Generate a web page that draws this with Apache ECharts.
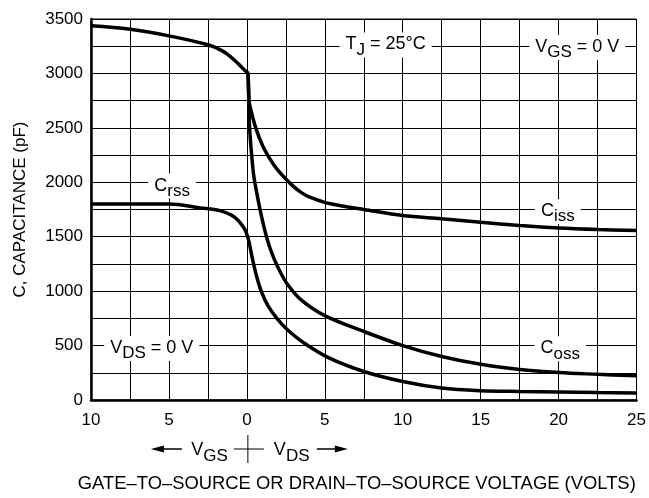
<!DOCTYPE html>
<html><head><meta charset="utf-8">
<script src="https://cdn.jsdelivr.net/npm/echarts@6/dist/echarts.min.js"></script>
<style>html,body{margin:0;padding:0;background:#fff}#c{width:649px;height:498px}</style>
</head><body><div id="c"></div>
<script>
// ---- data ----
const cissX = [-10,-7.5,-5,-2.5,-1.6,-1.1,-0.7,-0.35,-0.1,0.07,0.13,0.28,0.6,1.02,1.5,1.88,2.5,3,3.5,4,5,6,7.5,10,12.5,15,17.5,20,22.5,25];
const cissY = [3437,3405,3345,3263,3210,3160,3110,3060,3025,3000,2760,2650,2486,2334,2210,2130,2030,1960,1905,1865,1815,1785,1750,1694,1664,1632,1603,1580,1566,1557];
const cossX = [0.07,0.13,0.17,0.3,0.45,0.6,0.81,1.13,1.45,1.77,2.2,2.62,3.48,5,7.5,10,12.5,15,17.5,20,22.5,25];
const cossY = [3000,2760,2516,2260,2050,1930,1775,1570,1410,1290,1160,1060,920,775,630,500,400,328,280,252,236,222];
const crssX = [-10,-7.5,-5,-3,-1.74,-0.79,-0.15,0.07,0.2,0.35,0.6,0.92,1.34,1.98,2.62,3.69,5.3,7.5,10,12.5,15,17.5,20,22.5,25];
const crssY = [1800,1800,1800,1765,1740,1680,1572,1490,1410,1300,1150,1000,870,740,643,521,384,262,170,110,85,78,73,68,64];
const xLabelStep = 5;      // labelled every 5 V
const yLabelStep = 500;    // labelled every 500 pF
// annotation anchors in data units
const notes = [
  {x: 8.9, y: 3262, main: 'T', sub: 'J', tail: ' = 25°C'},
  {x: 21.2, y: 3238, main: 'V', sub: 'GS', tail: ' = 0 V'},
  {x: 19.95, y: 1730, main: 'C', sub: 'iss', tail: ''},
  {x: -4.8, y: 1965, main: 'C', sub: 'rss', tail: ''},
  {x: 20.1, y: 470, main: 'C', sub: 'oss', tail: ''},
  {x: -6.1, y: 472, main: 'V', sub: 'DS', tail: ' = 0 V'}
];

const FONT = "'Liberation Sans', Arial, sans-serif";
const zip = (a, b) => a.map((v, i) => [v, b[i]]);
const rich = {
  m: {fontSize: 18, fontFamily: FONT, color: '#000', lineHeight: 19, verticalAlign: 'top'},
  s: {fontSize: 17, fontFamily: FONT, color: '#000', lineHeight: 19, padding: [6, 0, 0, 0], verticalAlign: 'top'}
};
const curveStyle = {color: '#000', width: 3.5};
const curve = (name, xs, ys) => ({name: name, type: 'line', data: zip(xs, ys), showSymbol: false,
  smooth: 0.35, lineStyle: curveStyle, z: 3});

const chart = echarts.init(document.getElementById('c'), null, {renderer: 'canvas'});
const ciss = curve('Ciss', cissX, cissY);
ciss.markPoint = {
  symbol: 'rect', symbolSize: 1, itemStyle: {color: 'rgba(0,0,0,0)'},
  label: {show: true, position: 'inside', backgroundColor: '#fff', padding: [3, 6, 3, 6], rich: rich},
  data: notes.map(n => ({coord: [n.x, n.y], value: 0,
    label: {formatter: '{m|' + n.main + '}{s|' + n.sub + '}' + (n.tail ? '{m|' + n.tail + '}' : '')}}))
};
chart.setOption({
  animation: false,
  backgroundColor: '#fff',
  textStyle: {fontFamily: FONT},
  grid: {left: 91, top: 19, right: 11, bottom: 96, show: true, borderColor: '#000', borderWidth: 1},
  xAxis: {
    type: 'value', min: -10, max: 25, interval: 2.5,
    axisLine: {show: true, onZero: false, lineStyle: {color: '#000', width: 2.5}},
    axisTick: {show: false},
    splitLine: {show: true, lineStyle: {color: '#000', width: 1}},
    axisLabel: {interval: 0, color: '#000', fontSize: 17, fontFamily: FONT, margin: 12,
      formatter: v => (Math.abs(v) % xLabelStep === 0 ? String(Math.abs(v)) : '')},
    name: 'GATE–TO–SOURCE OR DRAIN–TO–SOURCE VOLTAGE (VOLTS)',
    nameLocation: 'middle', nameGap: 75,
    nameTextStyle: {color: '#000', fontSize: 18.4, fontFamily: FONT, padding: [0, 14, 0, 0]}
  },
  yAxis: {
    type: 'value', min: 0, max: 3500, interval: 250,
    axisLine: {show: true, onZero: false, lineStyle: {color: '#000', width: 2.5}},
    axisTick: {show: false},
    splitLine: {show: true, lineStyle: {color: '#000', width: 1}},
    axisLabel: {interval: 0, color: '#000', fontSize: 17, fontFamily: FONT, margin: 8,
      formatter: v => (v % yLabelStep === 0 ? String(v) : '')},
    name: 'C, CAPACITANCE (pF)',
    nameLocation: 'middle', nameGap: 62,
    nameTextStyle: {color: '#000', fontSize: 17, fontFamily: FONT}
  },
  series: [ciss, curve('Coss', cossX, cossY), curve('Crss', crssX, crssY)]
});

// bottom "<- VGS + VDS ->" legend anchored on x = 0
const x0 = chart.convertToPixel({xAxisIndex: 0}, 0);
const yb = 449;
chart.setOption({
  graphic: [
    {type: 'line', shape: {x1: x0 - 86, y1: yb, x2: x0 - 65, y2: yb}, style: {stroke: '#000', lineWidth: 1.5}},
    {type: 'polygon', shape: {points: [[x0 - 96, yb], [x0 - 83, yb - 3.5], [x0 - 83, yb + 3.5]]}, style: {fill: '#000'}},
    {type: 'text', style: {text: '{m|V}{s|GS}', rich: rich, x: x0 - 19, y: yb + 2, align: 'right', verticalAlign: 'middle'}},
    {type: 'line', shape: {x1: x0 - 13, y1: yb, x2: x0 + 17, y2: yb}, style: {stroke: '#000', lineWidth: 1}},
    {type: 'line', shape: {x1: x0 + 1, y1: yb - 14, x2: x0 + 1, y2: yb + 14}, style: {stroke: '#000', lineWidth: 1}},
    {type: 'text', style: {text: '{m|V}{s|DS}', rich: rich, x: x0 + 27, y: yb + 2, align: 'left', verticalAlign: 'middle'}},
    {type: 'line', shape: {x1: x0 + 70, y1: yb, x2: x0 + 91, y2: yb}, style: {stroke: '#000', lineWidth: 1.5}},
    {type: 'polygon', shape: {points: [[x0 + 101, yb], [x0 + 88, yb - 3.5], [x0 + 88, yb + 3.5]]}, style: {fill: '#000'}}
  ]
});
</script></body></html>
